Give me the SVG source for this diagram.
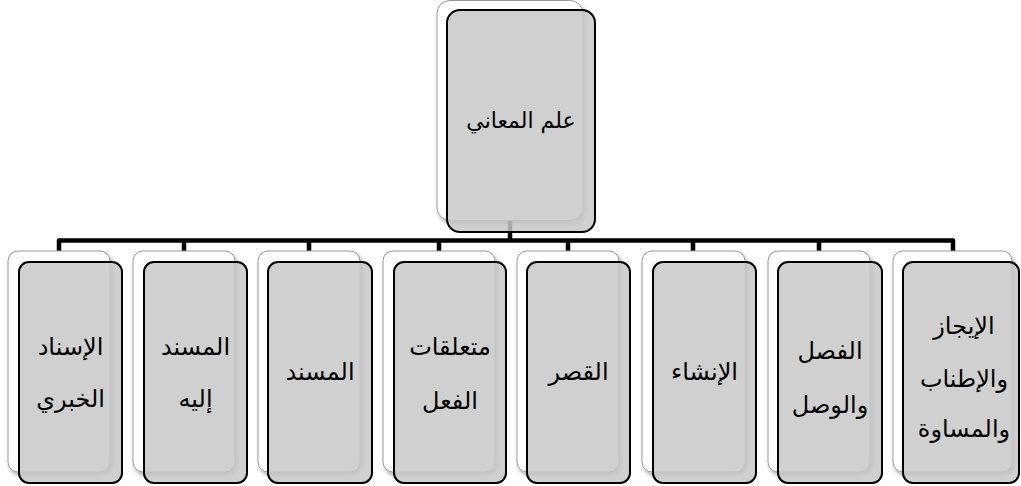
<svg xmlns="http://www.w3.org/2000/svg" width="1021" height="486" viewBox="0 0 1021 486">
<defs>
<filter id="sh" x="-10%" y="-10%" width="130%" height="130%">
<feGaussianBlur in="SourceAlpha" stdDeviation="2"/>
<feOffset dx="2" dy="3" result="b"/>
<feComponentTransfer><feFuncA type="linear" slope="0.35"/></feComponentTransfer>
<feMerge><feMergeNode/><feMergeNode in="SourceGraphic"/></feMerge>
</filter>
</defs>
<style>
.back{fill:#ffffff;stroke:#9a9a9a;stroke-width:1;filter:url(#sh)}
.front{fill:#c8c8c8;fill-opacity:0.85;stroke:#000;stroke-width:2}
.conn{fill:none;stroke:#000;stroke-width:4.5;stroke-linejoin:round}
.lbl{font-family:"DejaVu Sans",sans-serif;font-size:24px;fill:#000;text-anchor:middle;direction:rtl}
.top{font-size:22px}
</style>
<rect width="1021" height="486" fill="#fff"/>
<g id="connectors">
<path class="conn" d="M510,220 V240.5"/>
<path class="conn" d="M59,251 V240.5 H953 V251"/>
<path class="conn" d="M184,240.5 V251 M309,240.5 V251 M439,240.5 V251 M568,240.5 V251 M693,240.5 V251 M819,240.5 V251"/>
</g>
<g id="n0">
<rect class="back" x="437" y="0.5" width="146" height="220" rx="13"/>
<rect class="front" x="447" y="10" width="148" height="222" rx="13"/>
<text class="lbl top" x="521" y="128">علم المعاني</text>
</g>
<g id="n1">
<rect class="back" x="8" y="251" width="102" height="221" rx="10"/>
<rect class="front" x="19" y="262" width="103" height="221" rx="10"/>
<text class="lbl" x="70.5" y="355">الإسناد</text>
<text class="lbl" x="70.5" y="407">الخبري</text>
</g>
<g id="n2">
<rect class="back" x="133" y="251" width="102" height="221" rx="10"/>
<rect class="front" x="144" y="262" width="103" height="221" rx="10"/>
<text class="lbl" x="195.5" y="355">المسند</text>
<text class="lbl" x="195.5" y="407">إليه</text>
</g>
<g id="n3">
<rect class="back" x="258" y="251" width="102" height="221" rx="10"/>
<rect class="front" x="268" y="262" width="104" height="221" rx="10"/>
<text class="lbl" x="320" y="380">المسند</text>
</g>
<g id="n4">
<rect class="back" x="383" y="251" width="112" height="221" rx="10"/>
<rect class="front" x="394" y="262" width="112" height="221" rx="10"/>
<text class="lbl" x="450" y="355">متعلقات</text>
<text class="lbl" x="450" y="409">الفعل</text>
</g>
<g id="n5">
<rect class="back" x="517" y="251" width="102" height="221" rx="10"/>
<rect class="front" x="527" y="262" width="103" height="221" rx="10"/>
<text class="lbl" x="578.5" y="380">القصر</text>
</g>
<g id="n6">
<rect class="back" x="642" y="251" width="103" height="221" rx="10"/>
<rect class="front" x="653" y="262" width="103" height="221" rx="10"/>
<text class="lbl" x="704.5" y="380">الإنشاء</text>
</g>
<g id="n7">
<rect class="back" x="768" y="251" width="102" height="221" rx="10"/>
<rect class="front" x="778" y="262" width="104" height="221" rx="10"/>
<text class="lbl" x="830" y="359">الفصل</text>
<text class="lbl" x="830" y="413">والوصل</text>
</g>
<g id="n8">
<rect class="back" x="893" y="251" width="119" height="221" rx="10"/>
<rect class="front" x="903" y="262" width="116" height="221" rx="10"/>
<text class="lbl" x="964" y="334">الإيجاز</text>
<text class="lbl" x="964" y="387">والإطناب</text>
<text class="lbl" x="964" y="437">والمساوة</text>
</g>
</svg>
